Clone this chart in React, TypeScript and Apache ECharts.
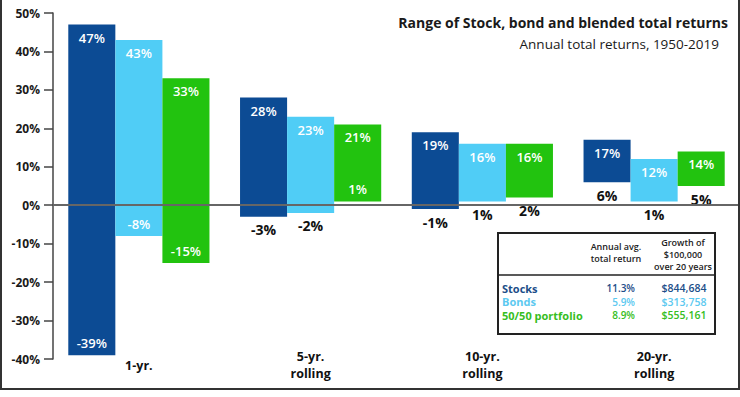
import React, { useEffect, useRef } from "react";
import * as echarts from "echarts";

const categories = ["1-yr.", "5-yr.\nrolling", "10-yr.\nrolling", "20-yr.\nrolling"];
const stocksHigh = [47, 28, 19, 17];
const stocksLow = [-39, -3, -1, 6];
const bondsHigh = [43, 23, 16, 12];
const bondsLow = [-8, -2, 1, 1];
const blendHigh = [33, 21, 16, 14];
const blendLow = [-15, 1, 2, 5];

const yTicksMin = -40;
const yTicksMax = 50;
const yTickStep = 10;

const titleText = "Range of Stock, bond and blended total returns";
const subtitleText = "Annual total returns, 1950-2019";

const tableNames = ["Stocks", "Bonds", "50/50 portfolio"];
const tableAvg = ["11.3%", "5.9%", "8.9%"];
const tableGrowth = ["$844,684", "$313,758", "$555,161"];
const tableHeadAvg = "Annual avg.\ntotal return";
const tableHeadGrowth = "Growth of\n$100,000\nover 20 years";

const FONT = '"Open Sans", "Noto Sans", sans-serif';
const colors = ["#0c4b94", "#50cdf6", "#22c30f"];
const tableColors = ["#1d4e89", "#5cc9f0", "#36be22"];

const seriesDefs = [
  { name: "Stocks", high: stocksHigh, low: stocksLow },
  { name: "Bonds", high: bondsHigh, low: bondsLow },
  { name: "50/50 portfolio", high: blendHigh, low: blendLow },
];

function lowInside(lo: number, hi: number) {
  return lo < -5 || (lo > 0 && hi - lo >= 20);
}

export default function App() {
  const ref = useRef<HTMLDivElement>(null);
  useEffect(() => {
    if (!ref.current) return;
    const chart = echarts.init(ref.current, null, { renderer: "svg" });
    const series: any[] = seriesDefs.map((s, k) => ({
      type: "custom",
      name: s.name,
      data: s.high.map((h, i) => [i, s.low[i], h]),
      encode: { x: 0, y: [1, 2] },
      renderItem: (params: any, api: any) => {
        const cat = api.value(0);
        const lo = api.value(1);
        const hi = api.value(2);
        const band = api.size([1, 0])[0];
        const w = band * 0.274;
        const pTop = api.coord([cat, hi]);
        const pBot = api.coord([cat, lo]);
        const cx = pTop[0] + (k - 1) * w;
        const inside = lowInside(lo, hi);
        return {
          type: "group",
          children: [
            {
              type: "rect",
              shape: { x: cx - w / 2, y: pTop[1], width: w, height: pBot[1] - pTop[1] },
              style: { fill: colors[k] },
            },
            {
              type: "text",
              x: cx,
              y: pTop[1] + 13,
              style: {
                text: hi + "%",
                fill: "#ffffff",
                font: `600 13px ${FONT}`,
                textAlign: "center",
                textVerticalAlign: "middle",
              },
            },
            {
              type: "text",
              x: cx,
              y: inside ? pBot[1] - 12 : pBot[1] + 13,
              style: {
                text: lo + "%",
                fill: inside ? "#ffffff" : "#111111",
                font: inside ? `600 13px ${FONT}` : `bold 14px ${FONT}`,
                textAlign: "center",
                textVerticalAlign: "middle",
              },
            },
          ],
        };
      },
      markLine:
        k === 0
          ? {
              silent: true,
              symbol: "none",
              label: { show: false },
              lineStyle: { color: "#666666", width: 2, type: "solid" },
              data: [{ yAxis: 0 }],
            }
          : undefined,
      z: 3,
    }));

    const tableX = 498;
    const tableY = 233;
    const tableW = 217;
    const tableH = 101;
    const graphics: any[] = [
      {
        type: "rect",
        shape: { x: 1, y: -2, width: 738, height: 391 },
        style: { fill: "none", stroke: "#333333", lineWidth: 2 },
        z: 10,
      },
      {
        type: "text",
        x: 728,
        y: 22,
        style: {
          text: titleText,
          fill: "#1a1a1a",
          font: `bold 14px ${FONT}`,
          textAlign: "right",
          textVerticalAlign: "middle",
        },
      },
      {
        type: "text",
        x: 719,
        y: 44,
        style: {
          text: subtitleText,
          fill: "#1a1a1a",
          font: `13.5px ${FONT}`,
          textAlign: "right",
          textVerticalAlign: "middle",
        },
      },
      {
        type: "rect",
        shape: { x: tableX, y: tableY, width: tableW, height: tableH },
        style: { fill: "#ffffff", stroke: "#222222", lineWidth: 2 },
        z: 20,
      },
      {
        type: "line",
        shape: { x1: tableX, y1: 275, x2: tableX + tableW, y2: 275 },
        style: { stroke: "#222222", lineWidth: 1.5 },
        z: 21,
      },
      {
        type: "text",
        x: 616,
        y: 252,
        z: 21,
        style: {
          text: tableHeadAvg,
          fill: "#222222",
          font: `600 9px ${FONT}`,
          lineHeight: 12,
          textAlign: "center",
          textVerticalAlign: "middle",
        },
      },
      {
        type: "text",
        x: 683,
        y: 254,
        z: 21,
        style: {
          text: tableHeadGrowth,
          fill: "#222222",
          font: `600 9px ${FONT}`,
          lineHeight: 12,
          textAlign: "center",
          textVerticalAlign: "middle",
        },
      },
    ];
    tableNames.forEach((n, i) => {
      const y = 288 + i * 13.5;
      graphics.push(
        {
          type: "text",
          x: 502,
          y,
          z: 21,
          style: {
            text: n,
            fill: tableColors[i],
            font: `bold 11px ${FONT}`,
            textAlign: "left",
            textVerticalAlign: "middle",
          },
        },
        {
          type: "text",
          x: 635,
          y,
          z: 21,
          style: {
            text: tableAvg[i],
            fill: tableColors[i],
            font: `600 10px ${FONT}`,
            textAlign: "right",
            textVerticalAlign: "middle",
          },
        },
        {
          type: "text",
          x: 684,
          y,
          z: 21,
          style: {
            text: tableGrowth[i],
            fill: tableColors[i],
            font: `600 10.5px ${FONT}`,
            textAlign: "center",
            textVerticalAlign: "middle",
          },
        }
      );
    });

    chart.setOption({
      animation: false,
      backgroundColor: "#ffffff",
      grid: { left: 53, right: 0, top: 13, height: 346 },
      xAxis: {
        type: "category",
        data: categories,
        axisLine: { show: false },
        axisTick: { show: false },
        axisLabel: {
          color: "#111111",
          fontFamily: FONT,
          fontWeight: "bold",
          fontSize: 12.5,
          lineHeight: 17,
          margin: 6,
          verticalAlign: "middle",
        },
      },
      yAxis: {
        type: "value",
        min: yTicksMin,
        max: yTicksMax,
        interval: yTickStep,
        axisLine: { show: true, lineStyle: { color: "#444444", width: 1.5 } },
        axisTick: { show: true, length: 9, lineStyle: { color: "#444444", width: 1.5 } },
        splitLine: { show: false },
        axisLabel: {
          formatter: "{value}%",
          color: "#1a1a1a",
          fontFamily: FONT,
          fontWeight: "bold",
          fontSize: 12,
          margin: 13,
        },
      },
      series,
      graphic: graphics,
    });
    return () => chart.dispose();
  }, []);
  return (
    <div
      ref={ref}
      style={{ position: "fixed", left: 0, top: 0, width: 740, height: 397, background: "#fff" }}
    />
  );
}
